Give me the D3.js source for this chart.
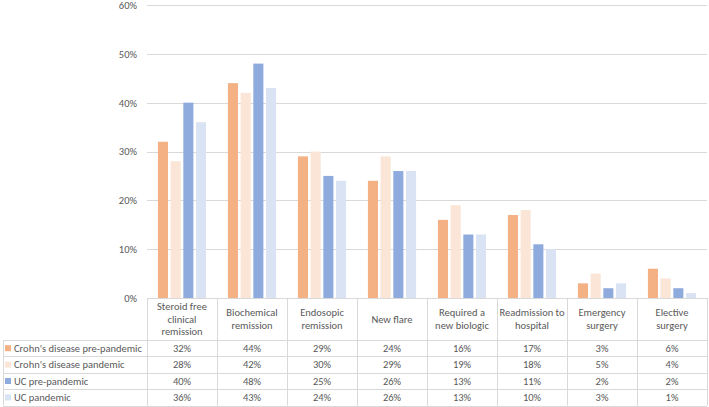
<!DOCTYPE html>
<html>
<head>
<meta charset="utf-8">
<script src="https://cdn.jsdelivr.net/npm/d3@7"></script>
<style>
  html, body { margin: 0; padding: 0; background: #fff; }
  svg text { font-family: Calibri, Carlito, "Liberation Sans", Arial, sans-serif; fill: #595959; }
</style>
</head>
<body>
<svg id="chart" width="709" height="407"></svg>
<script>
const categories = [
  ["Steroid free", "clinical", "remission"],
  ["Biochemical", "remission"],
  ["Endosopic", "remission"],
  ["New flare"],
  ["Required a", "new biologic"],
  ["Readmission to", "hospital"],
  ["Emergency", "surgery"],
  ["Elective", "surgery"]
];
const seriesNames = ["Crohn's disease pre-pandemic", "Crohn's disease pandemic", "UC pre-pandemic", "UC pandemic"];
const cdPre = [32, 44, 29, 24, 16, 17, 3, 6];
const cdPan = [28, 42, 30, 29, 19, 18, 5, 4];
const ucPre = [40, 48, 25, 26, 13, 11, 2, 2];
const ucPan = [36, 43, 24, 26, 13, 10, 3, 1];
const yTicks = [0, 10, 20, 30, 40, 50, 60];
const colors = ["#F4B183", "#FBE5D6", "#8FAADC", "#DAE3F3"];

const series = [cdPre, cdPan, ucPre, ucPan];
const svg = d3.select("#chart");
const mLeft = 147, mRight = 707, mTop = 5, mBottom = 298;

const x = d3.scaleBand().domain(d3.range(categories.length)).range([mLeft, mRight]).paddingInner(0).paddingOuter(0);
const x1 = d3.scaleBand().domain(d3.range(series.length)).range([0, x.bandwidth()]).paddingOuter(0.86).paddingInner(0.21);
const y = d3.scaleLinear().domain([0, 60]).range([mBottom, mTop]);

// gridlines
svg.append("g").selectAll("line").data(yTicks).join("line")
  .attr("x1", mLeft).attr("x2", mRight)
  .attr("y1", d => Math.round(y(d)) + 0.5).attr("y2", d => Math.round(y(d)) + 0.5)
  .attr("stroke", "#D9D9D9").attr("stroke-width", 1);

// y axis labels
const yAxis = d3.axisLeft(y).tickValues(yTicks).tickFormat(d => d + "%").tickSize(0).tickPadding(10);
const yg = svg.append("g").attr("transform", `translate(${mLeft},0)`).call(yAxis);
yg.select(".domain").remove();
yg.selectAll("text").style("font-size", "10.5px").attr("fill", "#595959");

// bars
const groups = svg.append("g").selectAll("g").data(categories).join("g")
  .attr("transform", (d, i) => `translate(${x(i)},0)`);
groups.selectAll("rect").data((d, i) => series.map((s, k) => ({ k, v: s[i] }))).join("rect")
  .attr("x", d => x1(d.k))
  .attr("width", x1.bandwidth())
  .attr("y", d => y(d.v))
  .attr("height", d => y(0) - y(d.v))
  .attr("fill", d => colors[d.k]);

// data table
const rowTop = 340, rowH = 16.4, tableBottom = rowTop + rowH * 4;
const tg = svg.append("g");
const lineColor = "#D9D9D9";
tg.append("line").attr("x1", mLeft).attr("x2", mRight).attr("y1", mBottom + 0.5).attr("y2", mBottom + 0.5).attr("stroke", lineColor);
d3.range(5).forEach(r => {
  const yy = Math.round(rowTop + r * rowH) + 0.5;
  tg.append("line").attr("x1", 3).attr("x2", mRight).attr("y1", yy).attr("y2", yy).attr("stroke", lineColor);
});
d3.range(categories.length + 1).forEach(i => {
  const xx = Math.round(i < categories.length ? x(i) : mRight) + 0.5;
  tg.append("line").attr("x1", xx).attr("x2", xx).attr("y1", mBottom).attr("y2", tableBottom).attr("stroke", lineColor);
});
tg.append("line").attr("x1", 3.5).attr("x2", 3.5).attr("y1", rowTop).attr("y2", tableBottom).attr("stroke", lineColor);

// header text
categories.forEach((lines, i) => {
  const cx = x(i) + x.bandwidth() / 2;
  const lh = 12.8;
  const midY = (mBottom + rowTop) / 2;
  const startY = midY - (lines.length - 1) * lh / 2;
  lines.forEach((t, j) => {
    tg.append("text").attr("x", cx).attr("y", startY + j * lh).attr("dy", "0.35em")
      .attr("text-anchor", "middle").style("font-size", "10.5px").text(t);
  });
});

// rows
series.forEach((s, k) => {
  const cy = rowTop + k * rowH + rowH / 2;
  tg.append("rect").attr("x", 5).attr("y", cy - 3).attr("width", 6).attr("height", 6).attr("fill", colors[k]);
  tg.append("text").attr("x", 14).attr("y", cy).attr("dy", "0.35em").style("font-size", "10.5px").text(seriesNames[k]);
  s.forEach((v, i) => {
    tg.append("text").attr("x", x(i) + x.bandwidth() / 2).attr("y", cy).attr("dy", "0.35em")
      .attr("text-anchor", "middle").style("font-size", "10.5px").text(v + "%");
  });
});
</script>
</body>
</html>
